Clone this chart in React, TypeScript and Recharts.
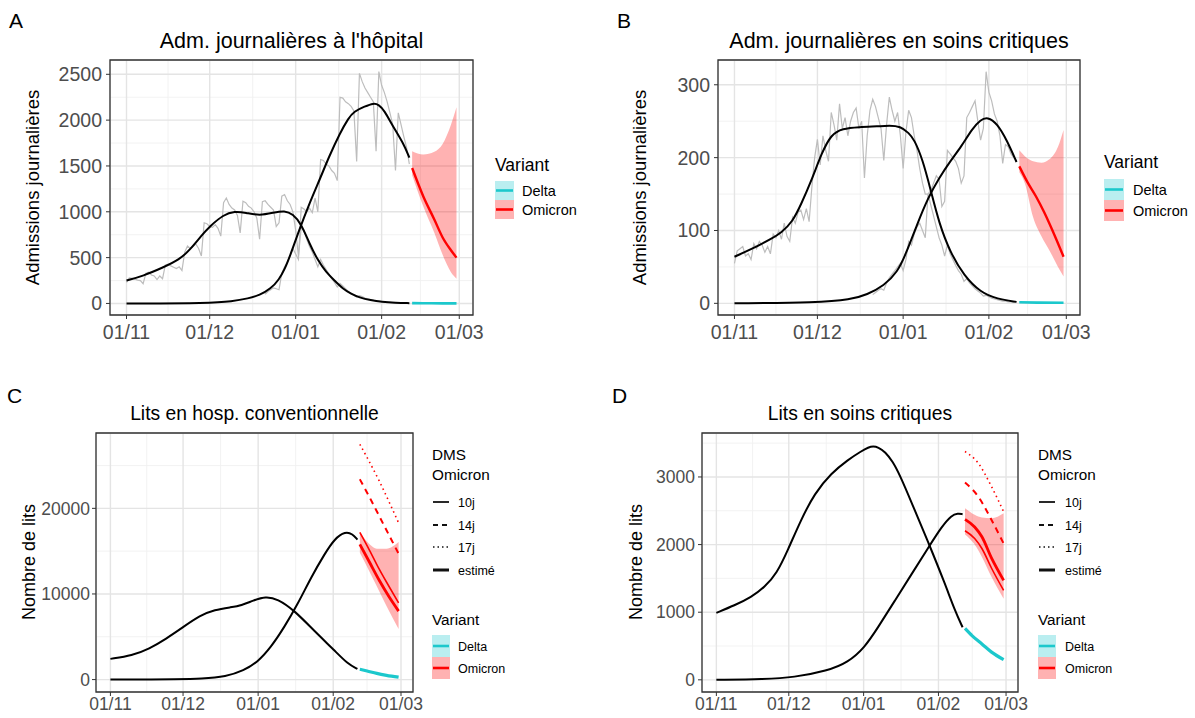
import React from 'react';
import { ComposedChart, Line, Area, XAxis, YAxis, CartesianGrid, ReferenceArea } from 'recharts';

const FONT = "'Liberation Sans', Arial, Helvetica, sans-serif";
const RED = '#FF0000';
const CYAN = '#1CC8CC';
const GREY = '#BDBDBD';

// ---------- shared x axis (days since 01/11) ----------
const DAY_TICKS = [0, 30, 61, 92, 120];
const DAY_LABELS = ['01/11', '01/12', '01/01', '01/02', '01/03'];
const DAY_MINOR = [15, 45.5, 76.5, 106];
const X_DOMAIN: [number, number] = [-5.95, 124.95];

type Pt = [number, number];
type Rg = [number, number, number];

// ---------- Panel A : Adm. journalières à l'hôpital ----------
const A_Y_DOMAIN: [number, number] = [-126, 2656];
const A_Y_TICKS = [0, 500, 1000, 1500, 2000, 2500];
const A_Y_MINOR = [250, 750, 1250, 1750, 2250];
const A_DELTA_OBS = [
  230, 280, 275, 265, 255, 250, 215,
  330, 340, 310, 300, 260, 300, 270,
  420, 430, 410, 395, 380, 400, 360,
  560, 626, 600, 620, 650, 600, 517,
  880, 870, 840, 830, 860, 820, 735,
  1100, 1150, 1080, 1040, 1020, 960, 770,
  1115, 1100, 1060, 1040, 1000, 930, 700,
  1110, 1120, 1080, 1050, 1020, 840, 880,
  1170, 1188, 1120, 1080, 1000, 800, 517,
  830, 800, 700, 620, 560, 480, 400,
  480, 420, 370, 320, 270, 230, 180,
  220, 190, 160, 130, 110, 90, 70,
  85, 75, 60, 50, 42, 35, 25,
  25, 20, 16, 13, 11, 9, 7,
  7, 6, 5, 4, 4,
];
const A_OMI_OBS = [
  100, 130, 150, 170, 160, 150,
  330, 400, 450, 520, 600, 540, 480,
  1050, 1030, 1000, 1040, 990, 1150, 1000,
  1570, 1560, 1520, 1500, 1450, 1420, 1340,
  2250, 2240, 2200, 2180, 2150, 2100, 1550,
  2510, 2420, 2350, 2300, 2250, 2200, 1660,
  2530, 2380, 2300, 2200, 2080, 1950, 1450,
  2080, 1950, 1820, 1700, 1520,
];
const A_DELTA_FIT: Pt[] = [
  [0, 250], [6, 300], [13, 390], [19, 475], [23, 590], [27, 740], [30, 840], [35, 970],
  [39, 1005], [43, 990], [48, 958], [53, 990], [57, 1015], [60, 975], [63, 870], [66, 650],
  [69, 470], [72, 340], [75, 250], [78, 160], [81, 105], [84, 65], [88, 35], [92, 16], [97, 7], [102, 3],
];
const A_OMI_FIT: Pt[] = [
  [0, 0], [30, 3], [38, 22], [44, 55], [48, 90], [52, 160], [55, 260], [57, 370], [59, 520],
  [62, 780], [66, 1095], [70, 1375], [73, 1600], [77, 1860], [80, 2020], [82, 2095], [86, 2150],
  [89, 2185], [91, 2170], [93, 2105], [96, 1935], [100, 1740], [102, 1590],
];
const A_DELTA_PROJ: Pt[] = [[103, 4], [110, 2], [119, 1]];
const A_OMI_PROJ: Pt[] = [[103, 1478], [107, 1170], [111, 916], [114, 720], [117, 580], [119, 500]];
const A_OMI_RIBBON: Rg[] = [
  [103, 1400, 1660], [107, 1060, 1625], [111, 770, 1655], [114, 530, 1740], [117, 340, 1950], [119, 270, 2140],
];

// ---------- Panel B : Adm. journalières en soins critiques ----------
const B_Y_DOMAIN: [number, number] = [-16, 334];
const B_Y_TICKS = [0, 100, 200, 300];
const B_Y_MINOR = [50, 150, 250];
const B_DELTA_OBS = [
  55, 72, 75, 78, 65, 68, 60,
  82, 75, 85, 80, 70, 78, 68,
  95, 90, 100, 88, 110, 92, 85,
  118, 110, 125, 128, 115, 130, 112,
  160, 200, 225, 190, 230, 210, 195,
  262, 245, 224, 274, 240, 255, 230,
  250, 262, 268, 240, 250, 172, 230,
  265, 280, 270, 255, 240, 196, 245,
  283, 265, 250, 262, 230, 185, 235,
  265, 255, 230, 210, 185, 165, 150,
  150, 135, 120, 105, 90, 80, 65,
  80, 68, 60, 52, 45, 40, 30,
  34, 28, 24, 20, 17, 14, 10,
  11, 9, 7, 6, 5, 4, 3,
  3, 2, 2, 2, 2,
];
const B_OMI_OBS = [
  12, 15, 18, 20, 18, 28,
  35, 40, 45, 50, 55, 45, 60,
  85, 80, 95, 105, 110, 100, 90,
  150, 155, 165, 175, 170, 133, 140,
  210, 205, 200, 195, 185, 165, 175,
  255, 262, 270, 278, 250, 224, 240,
  318, 290, 278, 260, 250, 230, 192,
  218, 215, 205, 200, 196,
];
const B_DELTA_FIT: Pt[] = [
  [0, 64], [6, 74], [13, 88], [17, 97], [21, 112], [24, 135], [28, 170], [31.5, 206], [35, 232],
  [39, 240], [45, 242], [52, 243], [56, 244], [60, 243], [63, 234], [65, 225], [68, 198], [71, 155],
  [74, 110], [78, 70], [83, 38], [89, 15], [95, 6], [102, 2],
];
const B_OMI_FIT: Pt[] = [
  [0, 0], [30, 1], [42, 5], [48, 12], [54, 24], [59, 43], [62, 68], [66, 108], [70, 145], [74, 172],
  [78, 195], [82, 215], [86, 240], [89, 252], [91.5, 256], [95, 247], [98.5, 224], [102, 194],
];
const B_DELTA_PROJ: Pt[] = [[103, 1.5], [110, 1], [119, 0.8]];
const B_OMI_PROJ: Pt[] = [[103, 188], [106, 166], [109, 147], [112, 125], [115, 100], [119, 64]];
const B_OMI_RIBBON: Rg[] = [
  [103, 180, 210], [105, 165, 202], [108, 118, 195], [111, 92, 193], [114, 72, 198], [117, 50, 215], [119, 37, 238],
];

// ---------- Panel C : Lits en hosp. conventionnelle ----------
const C_Y_DOMAIN: [number, number] = [-1450, 28800];
const C_Y_TICKS = [0, 10000, 20000];
const C_Y_MINOR = [5000, 15000, 25000];
const C_DELTA_FIT: Pt[] = [
  [0, 2420], [9, 2810], [16, 3590], [23, 4760], [30, 6120], [37, 7490], [43, 8150], [50, 8460],
  [54, 8650], [59, 9240], [64, 9710], [69, 9440], [76, 8070], [84, 5730], [92.6, 3390], [98, 1830], [102, 1250],
];
const C_OMI_FIT: Pt[] = [
  [0, 0], [30, 30], [37, 80], [48, 350], [55, 1050], [60.7, 2020], [66.3, 3780], [71.8, 6120],
  [77.4, 8850], [82.9, 11960], [88.5, 14700], [92.6, 16460], [97, 17300], [100, 17000], [102, 16350],
];
const C_DELTA_PROJ: Pt[] = [[103, 1200], [106, 1000], [110, 720], [114, 500], [119, 280]];
const C_OMI_EST: Pt[] = [[103, 15790], [107, 13700], [111, 11600], [115, 9700], [119, 8000]];
const C_OMI_10J: Pt[] = [[103, 17190], [107, 15100], [111, 12900], [115, 10900], [119, 8950]];
const C_OMI_14J: Pt[] = [[103, 23390], [107, 21300], [111, 19100], [115, 16900], [119, 14700]];
const C_OMI_17J: Pt[] = [[103, 27480], [107, 25400], [111, 23200], [115, 20800], [119, 18300]];
const C_OMI_RIBBON: Rg[] = [
  [103, 14800, 17230], [107, 12600, 15800], [110, 10900, 15290], [114, 8600, 15290], [119, 5900, 16060],
];

// ---------- Panel D : Lits en soins critiques ----------
const D_Y_DOMAIN: [number, number] = [-180, 3650];
const D_Y_TICKS = [0, 1000, 2000, 3000];
const D_Y_MINOR = [500, 1500, 2500, 3500];
const D_DELTA_FIT: Pt[] = [
  [0, 991], [7.5, 1100], [14.5, 1223], [20, 1371], [25, 1570], [29.6, 1917], [35, 2363], [40.7, 2759],
  [47.6, 3056], [54.5, 3254], [60, 3380], [63, 3440], [65, 3455], [67, 3440], [70, 3370], [73, 3230],
  [76, 3030], [81, 2610], [88, 2016], [94.7, 1422], [98.8, 1025], [102, 777],
];
const D_OMI_FIT: Pt[] = [
  [0, 0], [20, 10], [32, 35], [46, 134], [54.5, 257], [61.5, 480], [67, 777], [74, 1174], [81, 1570],
  [88, 1966], [93.3, 2263], [97.5, 2437], [100, 2460], [102, 2450],
];
const D_DELTA_PROJ: Pt[] = [[103, 760], [106, 650], [110, 530], [114, 410], [119, 300]];
const D_OMI_EST: Pt[] = [[103, 2373], [107, 2260], [110, 2115], [114, 1800], [119, 1471]];
const D_OMI_10J: Pt[] = [[103, 2204], [107, 2090], [110, 1942], [114, 1650], [119, 1322]];
const D_OMI_14J: Pt[] = [[103, 2917], [108.5, 2709], [114, 2363], [119, 2016]];
const D_OMI_17J: Pt[] = [[103, 3376], [108.5, 3203], [114, 2856], [119, 2485]];
const D_OMI_RIBBON: Rg[] = [
  [103, 2150, 2536], [107, 2000, 2440], [110, 1817, 2400], [114, 1520, 2388], [119, 1199, 2462],
];

// ---------- helpers ----------
const daily = (start: number, vals: number[]): Pt[] => vals.map((v, i) => [start + i, v] as Pt);

function buildRows(lines: Record<string, Pt[]>, ranges: Record<string, Rg[]> = {}) {
  const map = new Map<number, any>();
  const get = (d: number) => {
    if (!map.has(d)) map.set(d, { day: d });
    return map.get(d);
  };
  Object.entries(lines).forEach(([k, pts]) => pts.forEach(([d, v]) => (get(d)[k] = v)));
  Object.entries(ranges).forEach(([k, pts]) => pts.forEach(([d, lo, hi]) => (get(d)[k] = [lo, hi])));
  return Array.from(map.values()).sort((a, b) => a.day - b.day);
}

const line = (key: string, color: string, width: number, dash?: string, type: any = 'monotone') => (
  <Line
    key={key}
    dataKey={key}
    type={type}
    stroke={color}
    strokeWidth={width}
    strokeDasharray={dash}
    dot={false}
    activeDot={false}
    connectNulls
    isAnimationActive={false}
  />
);

const ribbon = (key: string) => (
  <Area
    key={key}
    dataKey={key}
    type="monotone"
    stroke="none"
    fill={RED}
    fillOpacity={0.3}
    connectNulls
    isAnimationActive={false}
  />
);

type Box = { left: number; top: number; w: number; h: number };

function Panel(props: {
  box: Box;
  rows: any[];
  yDomain: [number, number];
  yTicks: number[];
  yMinor: number[];
  tickFont: number;
  xTickMargin: number;
  yTickMargin: number;
  children: React.ReactNode;
}) {
  const { box, rows, yDomain, yTicks, yMinor, tickFont, xTickMargin, yTickMargin, children } = props;
  const YW = 62, MT = 10, MR = 12, XH = 36, MB = 4;
  const tickStyle = { fontSize: tickFont, fill: '#4D4D4D', fontFamily: FONT };
  return (
    <div style={{ position: 'absolute', left: box.left - YW, top: box.top - MT }}>
      <ComposedChart
        width={YW + box.w + MR}
        height={MT + box.h + XH + MB}
        data={rows}
        margin={{ top: MT, right: MR, bottom: MB, left: 0 }}
      >
        <CartesianGrid
          verticalValues={DAY_MINOR}
          horizontalValues={yMinor}
          stroke="#F0F0F0"
          strokeWidth={0.9}
        />
        <CartesianGrid stroke="#E4E4E4" strokeWidth={1.4} />
        <XAxis
          dataKey="day"
          type="number"
          domain={X_DOMAIN}
          ticks={DAY_TICKS}
          interval={0}
          allowDataOverflow
          tickFormatter={(v: number) => DAY_LABELS[DAY_TICKS.indexOf(v)] ?? ''}
          axisLine={false}
          tickLine={{ stroke: '#333333' }}
          tickSize={4}
          tickMargin={xTickMargin}
          height={XH}
          tick={tickStyle}
        />
        <YAxis
          type="number"
          domain={yDomain}
          ticks={yTicks}
          interval={0}
          allowDataOverflow
          axisLine={false}
          tickLine={{ stroke: '#333333' }}
          tickSize={4}
          tickMargin={yTickMargin}
          width={YW}
          tick={tickStyle}
        />
        {children}
        <ReferenceArea
          x1={X_DOMAIN[0]}
          x2={X_DOMAIN[1]}
          y1={yDomain[0]}
          y2={yDomain[1]}
          fill="none"
          fillOpacity={0}
          stroke="#333333"
          strokeWidth={1.3}
          ifOverflow="visible"
        />
      </ComposedChart>
    </div>
  );
}

function VariantLegend(p: { x: number; titleY: number; boxY: number; bw: number; bh: number; titleSize: number; labelSize: number; labelX: number }) {
  const { x, titleY, boxY, bw, bh, titleSize, labelSize, labelX } = p;
  const items = [
    { name: 'Delta', color: CYAN },
    { name: 'Omicron', color: RED },
  ];
  return (
    <g>
      <text x={x} y={titleY} fontSize={titleSize} fill="#000">Variant</text>
      {items.map((it, i) => {
        const y = boxY + i * bh;
        return (
          <g key={it.name}>
            <rect x={x} y={y} width={bw} height={bh} fill={it.color} fillOpacity={0.3} />
            <line x1={x + 1} x2={x + bw - 1} y1={y + bh / 2} y2={y + bh / 2} stroke={it.color} strokeWidth={2.6} />
            <text x={labelX} y={y + bh / 2 + labelSize * 0.36} fontSize={labelSize} fill="#000">{it.name}</text>
          </g>
        );
      })}
    </g>
  );
}

function DmsLegend(p: { x: number; labelX: number }) {
  const { x, labelX } = p;
  const items = [
    { name: '10j', y: 502, w: 1.8, dash: undefined as string | undefined },
    { name: '14j', y: 525, w: 1.8, dash: '5 4' },
    { name: '17j', y: 547, w: 1.5, dash: '1.5 3' },
    { name: 'estimé', y: 570, w: 3, dash: undefined },
  ];
  return (
    <g>
      <text x={x} y={460} fontSize={15.3} fill="#000">DMS</text>
      <text x={x} y={480} fontSize={15.3} fill="#000">Omicron</text>
      {items.map((it) => (
        <g key={it.name}>
          <line x1={x + 1} x2={x + 17} y1={it.y} y2={it.y} stroke="#111" strokeWidth={it.w} strokeDasharray={it.dash} />
          <text x={labelX} y={it.y + 4.5} fontSize={12.5} fill="#000">{it.name}</text>
        </g>
      ))}
    </g>
  );
}

export default function App() {
  const rowsA = buildRows(
    {
      dObs: daily(0, A_DELTA_OBS),
      oObs: daily(50, A_OMI_OBS),
      dFit: A_DELTA_FIT,
      oFit: A_OMI_FIT,
      dProj: A_DELTA_PROJ,
      oProj: A_OMI_PROJ,
    },
    { rib: A_OMI_RIBBON }
  );
  const rowsB = buildRows(
    {
      dObs: daily(0, B_DELTA_OBS),
      oObs: daily(50, B_OMI_OBS),
      dFit: B_DELTA_FIT,
      oFit: B_OMI_FIT,
      dProj: B_DELTA_PROJ,
      oProj: B_OMI_PROJ,
    },
    { rib: B_OMI_RIBBON }
  );
  const rowsC = buildRows(
    {
      dFit: C_DELTA_FIT,
      oFit: C_OMI_FIT,
      dProj: C_DELTA_PROJ,
      oEst: C_OMI_EST,
      o10: C_OMI_10J,
      o14: C_OMI_14J,
      o17: C_OMI_17J,
    },
    { rib: C_OMI_RIBBON }
  );
  const rowsD = buildRows(
    {
      dFit: D_DELTA_FIT,
      oFit: D_OMI_FIT,
      dProj: D_DELTA_PROJ,
      oEst: D_OMI_EST,
      o10: D_OMI_10J,
      o14: D_OMI_14J,
      o17: D_OMI_17J,
    },
    { rib: D_OMI_RIBBON }
  );

  const boxA: Box = { left: 110, top: 60, w: 363, h: 255 };
  const boxB: Box = { left: 718, top: 60, w: 362, h: 255 };
  const boxC: Box = { left: 96, top: 433, w: 317, h: 259 };
  const boxD: Box = { left: 702, top: 433, w: 316, h: 259 };

  const admSeries = [
    ribbon('rib'),
    line('dObs', GREY, 1.2, undefined, 'linear'),
    line('oObs', GREY, 1.2, undefined, 'linear'),
    line('dFit', '#000', 2, undefined, 'basis'),
    line('oFit', '#000', 2, undefined, 'basis'),
    line('dProj', CYAN, 2.6),
    line('oProj', RED, 2.4),
  ];
  const bedSeries = [
    ribbon('rib'),
    line('dFit', '#000', 2, undefined, 'basis'),
    line('oFit', '#000', 2, undefined, 'basis'),
    line('dProj', CYAN, 3.2),
    line('o17', RED, 1.6, '1.5 3.5'),
    line('o14', RED, 2, '6 5'),
    line('o10', RED, 1.6),
    line('oEst', RED, 2.8),
  ];

  return (
    <div
      style={{
        position: 'absolute',
        left: 0,
        top: 0,
        width: 1195,
        height: 718,
        background: '#fff',
        fontFamily: FONT,
        overflow: 'hidden',
      }}
    >
      <Panel box={boxA} rows={rowsA} yDomain={A_Y_DOMAIN} yTicks={A_Y_TICKS} yMinor={A_Y_MINOR} tickFont={19.5} xTickMargin={6} yTickMargin={4}>
        {admSeries}
      </Panel>
      <Panel box={boxB} rows={rowsB} yDomain={B_Y_DOMAIN} yTicks={B_Y_TICKS} yMinor={B_Y_MINOR} tickFont={19.5} xTickMargin={6} yTickMargin={4}>
        {admSeries}
      </Panel>
      <Panel box={boxC} rows={rowsC} yDomain={C_Y_DOMAIN} yTicks={C_Y_TICKS} yMinor={C_Y_MINOR} tickFont={17.5} xTickMargin={2} yTickMargin={2}>
        {bedSeries}
      </Panel>
      <Panel box={boxD} rows={rowsD} yDomain={D_Y_DOMAIN} yTicks={D_Y_TICKS} yMinor={D_Y_MINOR} tickFont={17.5} xTickMargin={2} yTickMargin={3}>
        {bedSeries}
      </Panel>

      <svg
        width={1195}
        height={718}
        style={{ position: 'absolute', left: 0, top: 0, pointerEvents: 'none' }}
        fontFamily={FONT}
      >
        {/* panel letters */}
        <text x={9} y={28} fontSize={21} fill="#000">A</text>
        <text x={617} y={28} fontSize={21} fill="#000">B</text>
        <text x={7} y={403} fontSize={21} fill="#000">C</text>
        <text x={612} y={403} fontSize={21} fill="#000">D</text>

        {/* titles */}
        <text x={291.5} y={48} fontSize={21.5} textAnchor="middle" fill="#000">Adm. journalières à l'hôpital</text>
        <text x={899} y={48} fontSize={21.5} textAnchor="middle" fill="#000">Adm. journalières en soins critiques</text>
        <text x={254.5} y={420} fontSize={19.3} textAnchor="middle" fill="#000">Lits en hosp. conventionnelle</text>
        <text x={860} y={420} fontSize={19.3} textAnchor="middle" fill="#000">Lits en soins critiques</text>

        {/* y axis titles */}
        <text transform="translate(39,187.5) rotate(-90)" fontSize={18.5} textAnchor="middle" fill="#000">Admissions journalières</text>
        <text transform="translate(646,187.5) rotate(-90)" fontSize={18.5} textAnchor="middle" fill="#000">Admissions journalières</text>
        <text transform="translate(35,562) rotate(-90)" fontSize={18} textAnchor="middle" fill="#000">Nombre de lits</text>
        <text transform="translate(642,562) rotate(-90)" fontSize={18} textAnchor="middle" fill="#000">Nombre de lits</text>

        {/* legends */}
        <VariantLegend x={495} titleY={171} boxY={181} bw={19} bh={19} titleSize={17.5} labelSize={14.5} labelX={522} />
        <VariantLegend x={1104} titleY={168} boxY={179} bw={20} bh={21} titleSize={17.5} labelSize={14.5} labelX={1133} />

        <DmsLegend x={432} labelX={458} />
        <VariantLegend x={432} titleY={625} boxY={635} bw={18} bh={22} titleSize={15.3} labelSize={12.5} labelX={458} />
        <DmsLegend x={1038} labelX={1065} />
        <VariantLegend x={1038} titleY={625} boxY={635} bw={18} bh={22} titleSize={15.3} labelSize={12.5} labelX={1065} />
      </svg>
    </div>
  );
}
